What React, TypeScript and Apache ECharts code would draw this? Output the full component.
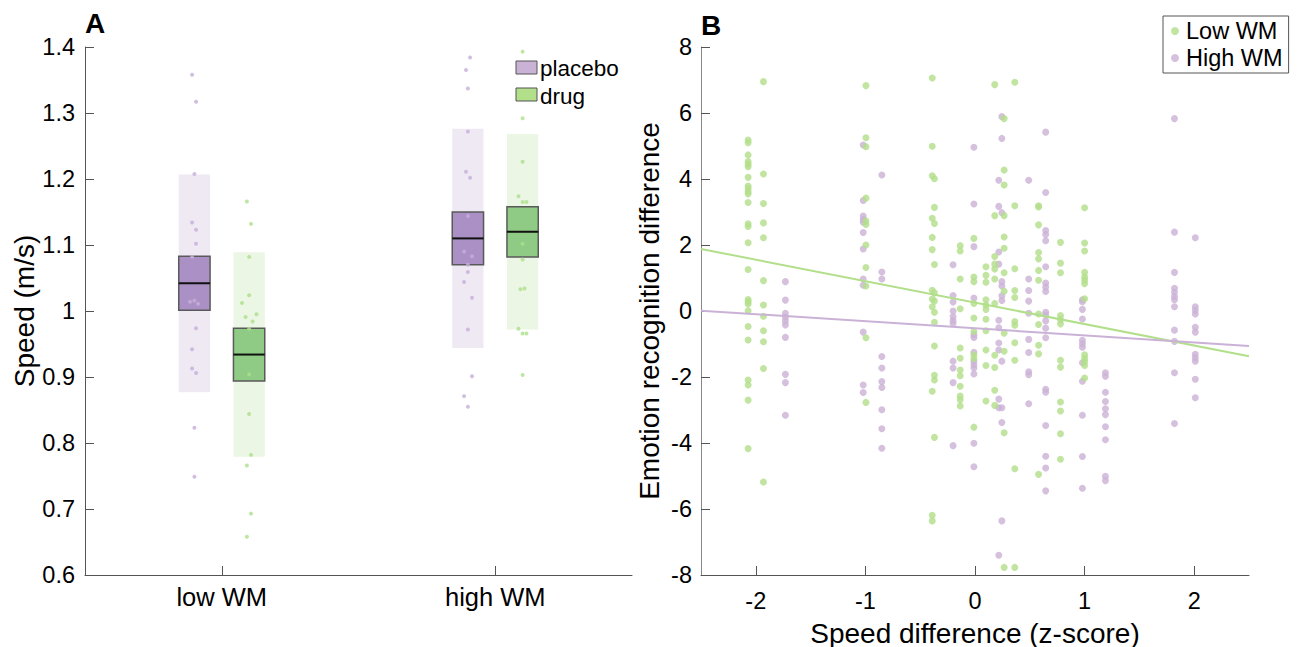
import React, { useEffect, useRef } from "react";
import * as echarts from "echarts";

// ---------- Panel A data ----------
const groupCats = ["low WM", "high WM"];
const groupX = [1, 2];

const placeboMean = [1.042, 1.11];
const placeboSem = [0.041, 0.04];
const placeboSd = [0.165, 0.166];
const drugMean = [0.934, 1.12];
const drugSem = [0.04, 0.038];
const drugSd = [0.155, 0.148];

const lowPlacebo = [1.358, 1.317, 1.2075, 1.134, 1.123, 1.102, 1.082, 1.014, 1.016, 1.011, 0.974, 0.942, 0.913, 0.906, 0.823, 0.749];
const lowPlaceboJit = [-0.0085, 0.006, 0, -0.0085, 0.006, 0.006, -0.0085, -0.016, 0, 0.0135, 0.006, -0.0085, -0.0085, 0.006, 0, 0];
const lowDrug = [1.166, 1.132, 1.082, 1.024, 1.012, 0.995, 0.991, 0.984, 0.973, 0.904, 0.844, 0.782, 0.766, 0.693, 0.658];
const lowDrugJit = [-0.008, 0.007, 0, 0, -0.026, 0.027, -0.013, 0.013, 0, 0, 0, 0.007, -0.008, 0.007, -0.008];
const highPlacebo = [1.384, 1.365, 1.337, 1.272, 1.211, 1.202, 1.144, 1.09, 1.083, 1.07, 1.059, 1.044, 1.02, 0.972, 0.901, 0.871, 0.855];
const highPlaceboJit = [0.008, -0.007, 0, 0, -0.007, 0.008, 0, -0.014, 0.015, 0, 0, -0.014, 0.015, 0, 0.015, -0.014, 0];
const highDrug = [1.393, 1.292, 1.226, 1.174, 1.165, 1.165, 1.102, 1.078, 1.033, 1.034, 0.973, 0.966, 0.966, 0.903];
const highDrugJit = [0, 0, 0, -0.015, 0, 0.014, 0, 0, -0.008, 0.007, -0.015, 0, 0.014, 0];

// ---------- Panel B data ----------
const lowWMX = [-2.07, -1.93, -0.995, -0.39, -0.37, -0.135, -0.01, 0.1, 0.18, 0.266, 0.363, 0.58, 0.78, 1.0];
const lowWMY = [
  [5.18, 5.1, 4.73, 4.53, 4.45, 4.37, 4.05, 3.79, 3.71, 3.62, 3.55, 3.29, 2.64, 2.56, 2.07, 1.26, 0.35, 0.28, 0.21, 0.01, -0.47, -0.88, -2.09, -2.24, -2.7, -4.17],
  [6.95, 4.15, 3.26, 2.67, 2.22, 0.92, 0.18, -0.16, -0.6, -0.93, -1.74, -5.18],
  [6.83, 5.25, 4.98, 3.42, 2.73, 2.62, 2.0, 1.32, 0.76, -0.81, -2.77],
  [7.06, 4.99, 4.1, 2.81, 2.23, 1.86, 0.63, 0.36, 0.13, -2.43, -6.19, -6.36],
  [4.01, 3.14, 2.65, 1.41, 0.55, 0.3, -0.04, -0.34, -1.06, -1.95, -2.09, -3.83],
  [1.98, 1.82, 0.97, 0.07, -1.12, -1.43, -1.79, -1.96, -2.28, -2.58, -2.69, -2.88],
  [2.2, 1.03, 0.89, 0.23, -0.21, -0.62, -1.33, -1.44, -3.52],
  [1.34, 1.08, 0.87, 0.34, 0.18, 0.05, -0.25, -0.6, -1.18, -1.65, -2.73],
  [6.86, 2.89, 1.65, 1.42, 1.27, 0.97, 0.23, -1.34, -1.71, -2.4, -2.86],
  [5.83, 4.27, 3.82, 2.89, 2.24, 1.9, 1.16, 0.6, -0.67, -1.22, -3.69, -7.77],
  [6.93, 3.19, 1.28, 0.62, 0.41, -0.32, -0.43, -0.96, -1.49, -4.78, -7.77],
  [3.19, 3.15, 2.61, 1.77, 1.58, 1.23, 0.93, -0.09, -0.41, -1.04, -1.3, -4.95],
  [2.08, 1.45, 1.16, -0.14, -0.26, -0.39, -1.49, -1.7, -2.76, -3.03, -3.72, -4.49],
  [3.13, 2.06, 1.82, 1.17, 1.03, 0.94, 0.83, 0.37, -1.33, -1.44, -1.54, -1.65, -2.03],
];
const highWMX = [-1.73, -1.02, -0.85, -0.2, -0.01, 0.217, 0.245, 0.49, 0.645, 0.98, 1.19, 1.82, 2.01];
const highWMY = [
  [0.89, 0.33, -0.07, -0.19, -0.3, -0.42, -0.8, -1.92, -2.17, -3.16],
  [5.03, 3.35, 2.88, 2.77, 2.69, 2.38, 1.88, 0.97, 0.78, -0.64, -2.24, -2.47],
  [4.12, 1.18, 0.97, -1.38, -1.73, -2.14, -2.32, -2.99, -3.57, -4.16],
  [1.4, 0.47, 0.27, 0.0, -0.17, -0.29, -0.38, -1.52, -1.73, -2.17, -4.08],
  [4.96, 3.24, 1.95, 0.39, -0.72, -0.8, -1.25, -1.52, -1.63, -1.73, -1.91, -4.01, -4.72],
  [3.96, 3.17, 1.79, 1.42, -0.28, -0.51, -0.97, -1.18, -2.67, -2.93, -7.4],
  [5.89, 5.23, 2.98, 0.89, 0.76, 0.46, 0.32, -1.52, -2.93, -3.38, -6.36],
  [3.96, 0.97, 0.62, 0.3, -0.07, -0.86, -1.26, -1.84, -1.93, -2.81],
  [5.42, 3.59, 2.44, 2.32, 2.13, 1.34, 0.85, 0.73, 0.59, -0.04, -0.12, -0.3, -0.52, -0.81, -2.37, -2.46, -3.47, -4.4, -4.76, -5.45],
  [0.34, 0.28, 0.05, -0.24, -0.89, -0.99, -1.1, -1.57, -2.13, -3.16, -4.41, -5.37],
  [-1.87, -1.98, -2.46, -2.74, -2.96, -3.14, -3.51, -3.9, -5.01, -5.14],
  [5.83, 2.39, 1.17, 0.69, 0.57, 0.44, 0.34, 0.13, -0.58, -0.92, -1.87, -3.41],
  [2.22, 0.13, 0.02, -0.09, -0.49, -0.64, -1.31, -1.42, -1.52, -2.07, -2.63],
];
const fitX = [-2.5, 2.5];
const lowFitY = [1.88, -1.37];
const highFitY = [0.01, -1.06];
const xTicksB = [-2, -1, 0, 1, 2];

const FONT = "Liberation Sans, Arial, Helvetica, sans-serif";
const GREEN = "#b2df8a";
const PURPLE = "#cab2d6";

const OFFSET = 0.1;
const BOX_W = 0.1145;

function boxRender(shade: string, fill: string) {
  return (params: any, api: any) => {
    const x = api.value(0);
    const m = api.value(1);
    const sem = api.value(2);
    const sd = api.value(3);
    const w = api.size([BOX_W, 0])[0];
    const cx = api.coord([x, m])[0];
    const ym = api.coord([x, m])[1];
    const sdTop = api.coord([x, m + sd])[1];
    const sdBot = api.coord([x, m - sd])[1];
    const bTop = api.coord([x, m + sem])[1];
    const bBot = api.coord([x, m - sem])[1];
    return {
      type: "group",
      children: [
        { type: "rect", shape: { x: cx - w / 2, y: sdTop, width: w, height: sdBot - sdTop }, style: { fill: shade } },
        { type: "rect", shape: { x: cx - w / 2, y: bTop, width: w, height: bBot - bTop }, style: { fill, stroke: "#5a5a5a", lineWidth: 1.5 } },
        { type: "line", shape: { x1: cx - w / 2, y1: ym, x2: cx + w / 2, y2: ym }, style: { stroke: "#111", lineWidth: 2 } },
      ],
    };
  };
}

function dots(vals: number[], jit: number[], base: number) {
  return vals.map((v, i) => [base + jit[i], v]);
}

export default function App() {
  const ref = useRef<HTMLDivElement>(null);
  useEffect(() => {
    if (!ref.current) return;
    const chart = echarts.init(ref.current, null, { renderer: "svg" });

    const placeboBoxes = groupX.map((x, i) => [x - OFFSET, placeboMean[i], placeboSem[i], placeboSd[i]]);
    const drugBoxes = groupX.map((x, i) => [x + OFFSET, drugMean[i], drugSem[i], drugSd[i]]);
    const placeboDots = [
      ...dots(lowPlacebo, lowPlaceboJit, groupX[0] - OFFSET),
      ...dots(highPlacebo, highPlaceboJit, groupX[1] - OFFSET),
    ];
    const drugDots = [
      ...dots(lowDrug, lowDrugJit, groupX[0] + OFFSET),
      ...dots(highDrug, highDrugJit, groupX[1] + OFFSET),
    ];
    const lowData = lowWMX.flatMap((x, i) => lowWMY[i].map((y) => [x, y]));
    const highData = highWMX.flatMap((x, i) => highWMY[i].map((y) => [x, y]));

    const axisLineA = { show: true, onZero: false, lineStyle: { color: "#555", width: 1 } };
    const tickLabel = { color: "#000", fontSize: 23.5, fontFamily: FONT };
    const nameStyle = { color: "#000", fontSize: 28, fontFamily: FONT };

    chart.setOption({
      animation: false,
      textStyle: { fontFamily: FONT },
      grid: [
        { left: 85, top: 47, width: 547, height: 528, outerBoundsMode: "none", containLabel: false },
        { left: 701, top: 47, width: 548, height: 528, outerBoundsMode: "none", containLabel: false },
      ],
      xAxis: [
        {
          gridIndex: 0,
          type: "value",
          min: 0.5,
          max: 2.5,
          splitLine: { show: false },
          axisLine: axisLineA,
          axisTick: { show: true, inside: true, length: 9, customValues: groupX, lineStyle: { color: "#555" } },
          axisLabel: {
            ...tickLabel,
            fontSize: 25.5,
            margin: 9,
            customValues: groupX,
            formatter: (v: number) => groupCats[groupX.indexOf(Math.round(v))] || "",
          },
        },
        {
          gridIndex: 1,
          type: "value",
          min: -2.5,
          max: 2.5,
          splitLine: { show: false },
          axisLine: axisLineA,
          axisTick: { show: true, inside: true, length: 9, customValues: xTicksB, lineStyle: { color: "#555" } },
          axisLabel: { ...tickLabel, margin: 14, customValues: xTicksB, formatter: (v: number) => String(v) },
          name: "Speed difference (z-score)",
          nameLocation: "middle",
          nameGap: 44,
          nameTextStyle: nameStyle,
        },
      ],
      yAxis: [
        {
          gridIndex: 0,
          type: "value",
          min: 0.6,
          max: 1.4,
          interval: 0.1,
          splitLine: { show: false },
          axisLine: axisLineA,
          axisTick: { show: true, inside: true, length: 9, lineStyle: { color: "#555" } },
          axisLabel: { ...tickLabel, margin: 10, formatter: (v: number) => String(+v.toFixed(1)) },
          name: "Speed (m/s)",
          nameLocation: "middle",
          nameGap: 44,
          nameRotate: 90,
          nameTextStyle: nameStyle,
        },
        {
          gridIndex: 1,
          type: "value",
          min: -8,
          max: 8,
          interval: 2,
          splitLine: { show: false },
          axisLine: { show: true, onZero: false, lineStyle: { color: "#888", width: 1 } },
          axisTick: { show: true, inside: true, length: 9, lineStyle: { color: "#555" } },
          axisLabel: { ...tickLabel, margin: 9 },
          name: "Emotion recognition difference",
          nameLocation: "middle",
          nameGap: 38,
          nameRotate: 90,
          nameTextStyle: nameStyle,
        },
      ],
      legend: [
        {
          data: ["Low WM", "High WM"],
          orient: "vertical",
          left: 1163,
          top: 16,
          padding: [3, 6, 3, 8],
          itemGap: 3,
          itemWidth: 8,
          itemHeight: 8,
          icon: "circle",
          borderColor: "#555",
          borderWidth: 1,
          backgroundColor: "#fff",
          textStyle: { color: "#000", fontSize: 23.5, fontFamily: FONT, padding: [0, 0, 0, 2] },
        },
      ],
      graphic: [
        { type: "text", left: 85, top: 9, style: { text: "A", font: `bold 28px ${FONT}`, fill: "#000" } },
        { type: "text", left: 701, top: 11, style: { text: "B", font: `bold 28px ${FONT}`, fill: "#000" } },
        { type: "rect", shape: { x: 516, y: 61, width: 21, height: 13 }, style: { fill: PURPLE, stroke: "#555", lineWidth: 1 } },
        { type: "text", x: 540, y: 68, style: { text: "placebo", font: `22.5px ${FONT}`, fill: "#000", verticalAlign: "middle" } },
        { type: "rect", shape: { x: 516, y: 88, width: 21, height: 13 }, style: { fill: GREEN, stroke: "#555", lineWidth: 1 } },
        { type: "text", x: 540, y: 96, style: { text: "drug", font: `22.5px ${FONT}`, fill: "#000", verticalAlign: "middle" } },
      ],
      series: [
        {
          type: "custom",
          name: "placebo",
          xAxisIndex: 0,
          yAxisIndex: 0,
          renderItem: boxRender("#efe9f4", "#aa90c5"),
          data: placeboBoxes,
          encode: { x: 0, y: 1 },
          z: 1,
        },
        {
          type: "custom",
          name: "drug",
          xAxisIndex: 0,
          yAxisIndex: 0,
          renderItem: boxRender("#ebf6e4", "#8fcb85"),
          data: drugBoxes,
          encode: { x: 0, y: 1 },
          z: 1,
        },
        {
          type: "scatter",
          name: "placeboDots",
          xAxisIndex: 0,
          yAxisIndex: 0,
          symbolSize: 4,
          itemStyle: { color: "#c6afd9" },
          data: placeboDots,
          z: 3,
        },
        {
          type: "scatter",
          name: "drugDots",
          xAxisIndex: 0,
          yAxisIndex: 0,
          symbolSize: 4,
          itemStyle: { color: "#ade08c" },
          data: drugDots,
          z: 3,
        },
        {
          type: "scatter",
          name: "High WM",
          xAxisIndex: 1,
          yAxisIndex: 1,
          symbolSize: 7,
          itemStyle: { color: PURPLE },
          data: highData,
          z: 2,
        },
        {
          type: "scatter",
          name: "Low WM",
          xAxisIndex: 1,
          yAxisIndex: 1,
          symbolSize: 7,
          itemStyle: { color: GREEN },
          data: lowData,
          z: 2,
        },
        {
          type: "line",
          name: "lowFit",
          xAxisIndex: 1,
          yAxisIndex: 1,
          symbol: "none",
          lineStyle: { color: GREEN, width: 2 },
          data: fitX.map((x, i) => [x, lowFitY[i]]),
          z: 4,
        },
        {
          type: "line",
          name: "highFit",
          xAxisIndex: 1,
          yAxisIndex: 1,
          symbol: "none",
          lineStyle: { color: PURPLE, width: 2 },
          data: fitX.map((x, i) => [x, highFitY[i]]),
          z: 4,
        },
      ],
    });
    return () => chart.dispose();
  }, []);
  return <div ref={ref} style={{ position: "absolute", left: 0, top: 0, width: 1305, height: 647 }} />;
}
